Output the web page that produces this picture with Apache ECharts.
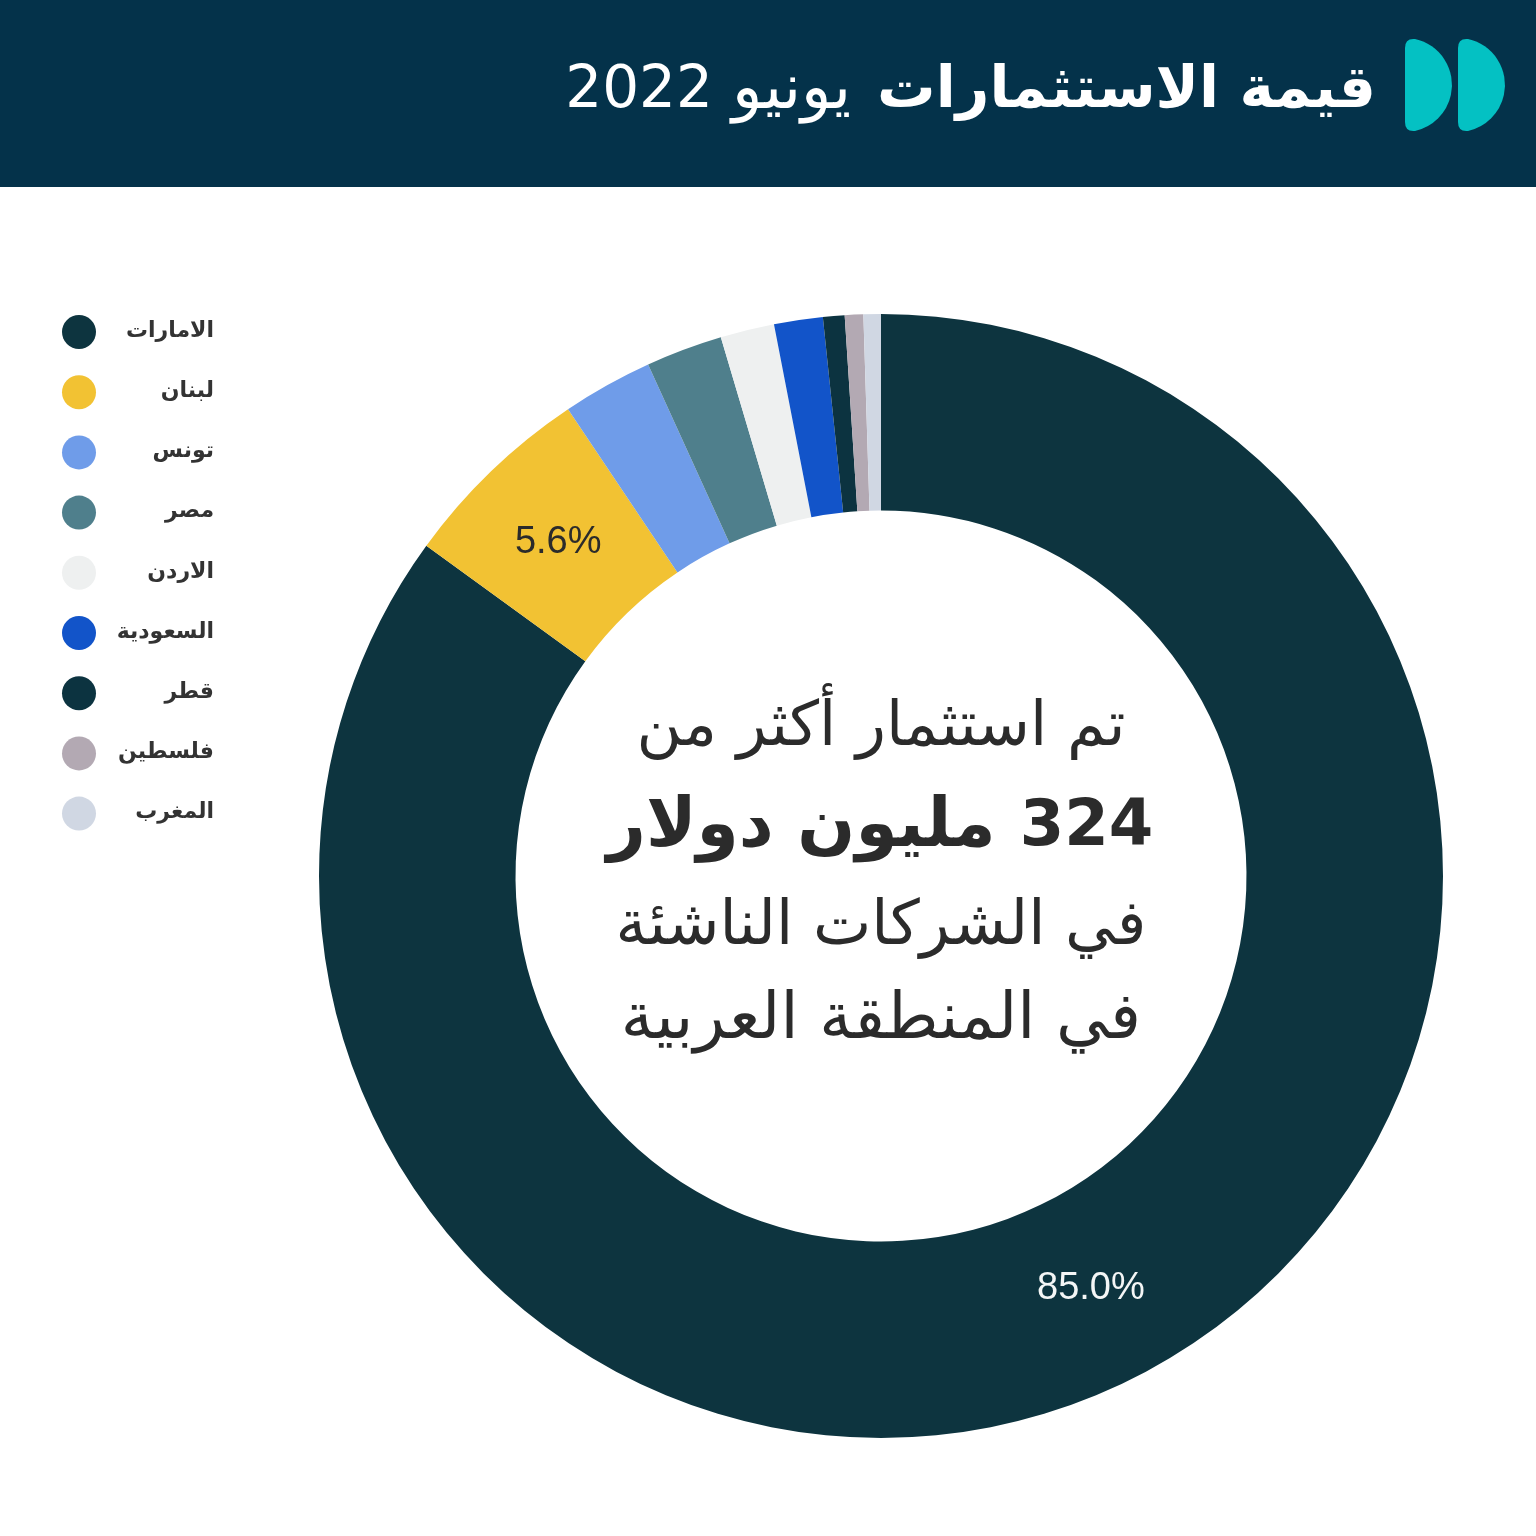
<!DOCTYPE html>
<html>
<head>
    <meta charset="utf-8" />
    <title>قيمة الاستثمارات</title>
    <script src="https://cdn.jsdelivr.net/npm/echarts@6/dist/echarts.min.js"></script>
    <style>
        html, body { margin: 0; padding: 0; background: #fff; }
    </style>
</head>
<body>
    <div id="main" style="width:1536px;height:1536px;"></div>
    <script type="text/javascript">
        // data
        var countries = ['الامارات', 'لبنان', 'تونس', 'مصر', 'الاردن', 'السعودية', 'قطر', 'فلسطين', 'المغرب'];
        var shares = [85.0, 5.6, 2.6, 2.2, 1.55, 1.4, 0.62, 0.53, 0.5];
        var colors = ['#0d343f', '#f2c233', '#6f9ce9', '#4f7f8c', '#eef0f0', '#1254c9', '#0c3340', '#b3a9b3', '#d0d7e3'];
        // only these two slices carry a label
        var labelled = ['الامارات', 'لبنان'];
        var labelColors = ['#f4f6f6', '#2b2b2b'];

        var arabicFont = '"DejaVu Sans", "Noto Sans", sans-serif';

        // logo halves
        echarts.graphic.registerShape('logoLeft', echarts.graphic.extendPath(
            'M1405 48 Q1405 38 1415 39 A47.1 47.1 0 0 1 1415 131 Q1405 132 1405 122 Z', {}));
        echarts.graphic.registerShape('logoRight', echarts.graphic.extendPath(
            'M1458 48 Q1458 38 1468 39 A47.1 47.1 0 0 1 1468 131 Q1458 132 1458 122 Z', {}));

        var myChart = echarts.init(document.getElementById('main'), null, { renderer: 'canvas' });

        var pieData = countries.map(function(name, i) {
            var idx = labelled.indexOf(name);
            return {
                name: name,
                value: shares[i],
                itemStyle: { color: colors[i] },
                label: idx >= 0
                    ? { show: true, color: labelColors[idx], offset: idx == 0 ? [-2, -3] : [1, 3] }
                    : { show: false }
            };
        });

        var centerLine = function(text, y, size, weight) {
            return {
                type: 'text',
                z: 10,
                style: {
                    x: 881, y: y,
                    text: text,
                    align: 'center',
                    verticalAlign: 'middle',
                    font: weight + ' ' + size + 'px ' + arabicFont,
                    fill: '#2b2b2b'
                }
            };
        };

        myChart.setOption({
            animation: false,
            backgroundColor: '#ffffff',
            color: colors,
            legend: {
                orient: 'vertical',
                left: 57,
                top: 310,
                icon: 'circle',
                itemWidth: 34,
                itemHeight: 34,
                itemGap: 26.2,
                data: countries,
                formatter: function(name) { return '{n|' + name + '}'; },
                textStyle: {
                    rich: {
                        n: {
                            width: 113,
                            align: 'right',
                            fontFamily: arabicFont,
                            fontWeight: 'bold',
                            fontSize: 22,
                            color: '#333333',
                            padding: [0, 0, 2, 0]
                        }
                    }
                }
            },
            series: [{
                type: 'pie',
                center: [881, 876],
                radius: [365.5, 562],
                startAngle: 90,
                clockwise: true,
                avoidLabelOverlap: false,
                silent: true,
                itemStyle: { borderWidth: 0 },
                labelLine: { show: false },
                label: {
                    position: 'inside',
                    fontFamily: 'Liberation Sans, Arial, sans-serif',
                    fontSize: 38,
                    formatter: function(p) { return p.value.toFixed(1) + '%'; }
                },
                data: pieData
            }],
            graphic: [
                // header band
                { type: 'rect', z: 5, shape: { x: 0, y: 0, width: 1536, height: 187 }, style: { fill: '#04324a' } },
                { type: 'logoLeft', z: 6, style: { fill: '#04c1c3' } },
                { type: 'logoRight', z: 6, style: { fill: '#04c1c3' } },
                // title, tokens run left to right so the order is visual
                {
                    type: 'text',
                    z: 6,
                    style: {
                        x: 1376, y: 92,
                        align: 'right',
                        verticalAlign: 'middle',
                        text: '{y|2022}{m|يونيو}{b|قيمة الاستثمارات}',
                        fill: '#ffffff',
                        rich: {
                            y: { font: 'normal 58px ' + arabicFont, fill: '#ffffff', padding: [0, 19, 0, 0] },
                            m: { font: 'normal 63px ' + arabicFont, fill: '#ffffff', padding: [0, 26, 0, 0] },
                            b: { font: 'bold 58.4px ' + arabicFont, fill: '#ffffff' }
                        }
                    }
                },
                centerLine('تم استثمار أكثر من', 729, 62, 'normal'),
                {
                    type: 'text',
                    z: 10,
                    style: {
                        x: 880, y: 828,
                        align: 'center',
                        verticalAlign: 'middle',
                        text: '{b|مليون دولار}{n|324}',
                        rich: {
                            b: { font: 'bold 68px ' + arabicFont, fill: '#2b2b2b', padding: [0, 24, 0, 0] },
                            n: { font: 'bold 64px ' + arabicFont, fill: '#2b2b2b' }
                        }
                    }
                },
                centerLine('في الشركات الناشئة', 928, 62, 'normal'),
                centerLine('في المنطقة العربية', 1021, 65, 'normal')
            ]
        });
    </script>
</body>
</html>
